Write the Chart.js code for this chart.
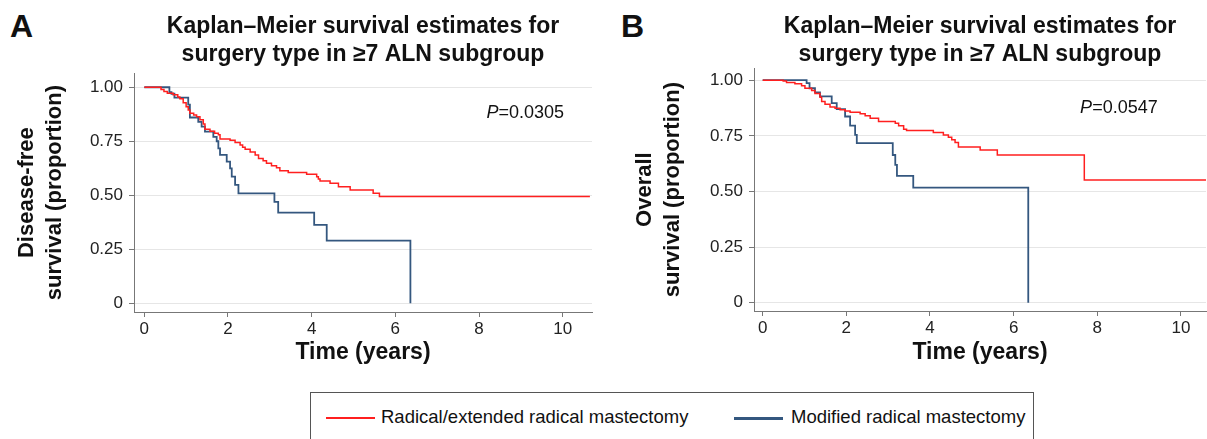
<!DOCTYPE html>
<html>
<head>
<meta charset="utf-8">
<script src="https://cdn.jsdelivr.net/npm/chart.js@4.4.0/dist/chart.umd.min.js"></script>
<style>
  body { margin: 0; background: #fff; width: 1207px; height: 439px; overflow: hidden; position: relative; font-family: "Liberation Sans", Arial, sans-serif; }
  canvas { position: absolute; top: 0; }
  #chartA { left: 0; }
  #chartB { left: 620px; }
  .panel-letter { position: absolute; top: 8px; font-size: 32px; font-weight: bold; color: #111; }
  #legend { position: absolute; left: 310px; top: 392px; width: 724px; height: 52px; border: 1px solid #555; box-sizing: border-box; }
  .key { position: absolute; top: 24px; width: 49px; height: 2px; }
  .key-text { position: absolute; top: 13px; font-size: 18.5px; color: #111; white-space: nowrap; }
</style>
</head>
<body>
<div class="panel-letter" style="left:10px">A</div>
<div class="panel-letter" style="left:621px">B</div>
<canvas id="chartA" width="600" height="380"></canvas>
<canvas id="chartB" width="587" height="380"></canvas>
<div id="legend">
  <div class="key" style="left:15px;background:#ff1f1f"></div>
  <div class="key-text" style="left:70px">Radical/extended radical mastectomy</div>
  <div class="key" style="left:423px;background:#34577f;height:3px"></div>
  <div class="key-text" style="left:480px">Modified radical mastectomy</div>
</div>
<script>
// panel A - disease-free survival
const aRadTime = [0, 0.40, 0.47, 0.55, 0.69, 0.80, 0.85, 0.93, 1.00, 1.05, 1.09, 1.18, 1.25, 1.33, 1.41, 1.45, 1.57, 1.68, 1.77, 1.81, 2.05, 2.17, 2.29, 2.35, 2.41, 2.53, 2.65, 2.73, 2.84, 2.92, 3.04, 3.16, 3.24, 3.44, 3.88, 4.12, 4.16, 4.20, 4.44, 4.64, 4.92, 5.47, 5.62, 10.65];
const aRadSurv = [1, 0.99, 0.98, 0.972, 0.965, 0.955, 0.947, 0.928, 0.91, 0.895, 0.88, 0.872, 0.864, 0.85, 0.83, 0.806, 0.796, 0.787, 0.78, 0.76, 0.755, 0.744, 0.733, 0.722, 0.713, 0.70, 0.687, 0.67, 0.66, 0.648, 0.637, 0.628, 0.614, 0.605, 0.597, 0.586, 0.575, 0.566, 0.556, 0.54, 0.525, 0.509, 0.494, 0.494];
const aModTime = [0, 0.60, 0.65, 0.72, 1.05, 1.09, 1.29, 1.37, 1.45, 1.65, 1.73, 1.77, 1.81, 1.97, 2.05, 2.09, 2.17, 2.25, 3.11, 3.20, 4.06, 4.36, 6.36];
const aModSurv = [1, 0.977, 0.97, 0.952, 0.92, 0.86, 0.84, 0.818, 0.795, 0.77, 0.75, 0.717, 0.687, 0.656, 0.625, 0.586, 0.548, 0.509, 0.47, 0.42, 0.363, 0.29, 0];

// panel B - overall survival
const bRadTime = [0, 0.49, 0.57, 0.77, 0.93, 1.01, 1.17, 1.25, 1.37, 1.41, 1.49, 1.61, 1.73, 1.85, 1.97, 2.09, 2.33, 2.45, 2.57, 2.77, 3.17, 3.25, 3.37, 3.44, 4.08, 4.32, 4.44, 4.52, 4.60, 4.68, 5.20, 5.61, 7.69, 10.6];
const bRadSurv = [1, 0.996, 0.99, 0.984, 0.975, 0.964, 0.954, 0.94, 0.924, 0.904, 0.892, 0.88, 0.874, 0.867, 0.862, 0.856, 0.849, 0.84, 0.829, 0.814, 0.807, 0.795, 0.78, 0.774, 0.765, 0.754, 0.744, 0.732, 0.72, 0.70, 0.687, 0.664, 0.552, 0.552];
const bModTime = [0, 1.05, 1.12, 1.25, 1.37, 1.65, 1.77, 1.97, 2.09, 2.21, 2.25, 3.11, 3.17, 3.21, 3.60, 6.35];
const bModSurv = [1, 0.987, 0.964, 0.945, 0.927, 0.897, 0.87, 0.837, 0.796, 0.754, 0.717, 0.664, 0.62, 0.57, 0.517, 0];

const yTicks = [0, 0.25, 0.5, 0.75, 1];
const xTicks = [0, 2, 4, 6, 8, 10];
const titleLines = ["Kaplan\u2013Meier survival estimates for", "surgery type in \u22657 ALN subgroup"];

const fontFamily = "'Liberation Sans', Arial, sans-serif";
const red = "#ff1f1f";
const blue = "#34577f";

// zip time/survival arrays into points
function toPoints(times, surv) {
  return times.map((t, i) => ({ x: t, y: surv[i] }));
}

// writes the P value (italic P) at a data position
const pValuePlugin = {
  id: "pLabel",
  afterDatasetsDraw(chart, args, opts) {
    const ctx = chart.ctx;
    const px = chart.scales.x.getPixelForValue(opts.x);
    const py = chart.scales.y.getPixelForValue(opts.y);
    ctx.save();
    ctx.fillStyle = "#111";
    ctx.textBaseline = "middle";
    ctx.font = "italic 18px " + fontFamily;
    ctx.fillText("P", px, py);
    const w = ctx.measureText("P").width;
    ctx.font = "18px " + fontFamily;
    ctx.fillText(opts.text, px + w, py);
    ctx.restore();
  }
};

function makeKmChart(id, cfg) {
  return new Chart(document.getElementById(id), {
    type: "line",
    data: {
      datasets: [
        {
          label: "Radical/extended radical mastectomy",
          data: toPoints(cfg.radTime, cfg.radSurv),
          borderColor: red,
          borderWidth: 1.5,
          stepped: "before",
          pointRadius: 0,
          fill: false
        },
        {
          label: "Modified radical mastectomy",
          data: toPoints(cfg.modTime, cfg.modSurv),
          borderColor: blue,
          borderWidth: 1.8,
          stepped: "before",
          pointRadius: 0,
          fill: false
        }
      ]
    },
    options: {
      responsive: false,
      animation: false,
      layout: { padding: { left: 0, right: cfg.padRight, top: 0, bottom: 0 } },
      plugins: {
        legend: { display: false },
        tooltip: { enabled: false },
        title: {
          display: true,
          fullSize: false,
          text: titleLines,
          color: "#111",
          font: { family: fontFamily, size: 23, weight: "bold", lineHeight: 1.2 },
          padding: { top: 13, bottom: cfg.titleBottom }
        },
        pLabel: cfg.pLabel
      },
      scales: {
        x: {
          type: "linear",
          min: cfg.xMin,
          max: cfg.xMax,
          afterBuildTicks: scale => {
            scale.ticks = xTicks.map(v => ({ value: v }));
          },
          afterFit: scale => {
            scale.height = cfg.xHeight;
          },
          ticks: {
            color: "#222",
            padding: 2,
            maxRotation: 0,
            font: { family: fontFamily, size: 17 },
            callback: v => String(v)
          },
          grid: { drawOnChartArea: false, tickLength: 5, tickColor: "#777" },
          border: { color: "#777", width: 1 },
          title: {
            display: true,
            text: "Time (years)",
            color: "#111",
            font: { family: fontFamily, size: 23, weight: "bold", lineHeight: 1.2 },
            padding: { top: 0, bottom: 14 }
          }
        },
        y: {
          min: cfg.yMin,
          max: cfg.yMax,
          afterBuildTicks: scale => {
            scale.ticks = yTicks.map(v => ({ value: v }));
          },
          afterFit: scale => {
            scale.width = 134;
          },
          ticks: {
            color: "#222",
            padding: 6,
            font: { family: fontFamily, size: 17 },
            callback: v => (v === 0 ? "0" : v.toFixed(2))
          },
          grid: { color: "#e6e6e6", lineWidth: 1, tickLength: 5, tickColor: "#777" },
          border: { color: "#777", width: 1 },
          title: {
            display: true,
            text: cfg.yTitle,
            color: "#111",
            font: { family: fontFamily, size: 22, weight: "bold", lineHeight: 1.27 },
            padding: { top: cfg.yTitleTop, bottom: 0 }
          }
        }
      }
    },
    plugins: [pValuePlugin]
  });
}

makeKmChart("chartA", {
  radTime: aRadTime, radSurv: aRadSurv,
  modTime: aModTime, modSurv: aModSurv,
  xMin: -0.246, xMax: 10.70,
  yMin: -0.040, yMax: 1.065,
  padRight: 8, titleBottom: 5, xHeight: 68,
  yTitle: ["Disease-free", "survival (proportion)"],
  yTitleTop: 13,
  pLabel: { x: 8.18, y: 0.88, text: "=0.0305" }
});

makeKmChart("chartB", {
  radTime: bRadTime, radSurv: bRadSurv,
  modTime: bModTime, modSurv: bModSurv,
  xMin: -0.208, xMax: 10.6,
  yMin: -0.037, yMax: 1.054,
  padRight: 1, titleBottom: 0, xHeight: 69,
  yTitle: ["Overall", "survival (proportion)"],
  yTitleTop: 11,
  pLabel: { x: 7.59, y: 0.877, text: "=0.0547" }
});
</script>
</body>
</html>
